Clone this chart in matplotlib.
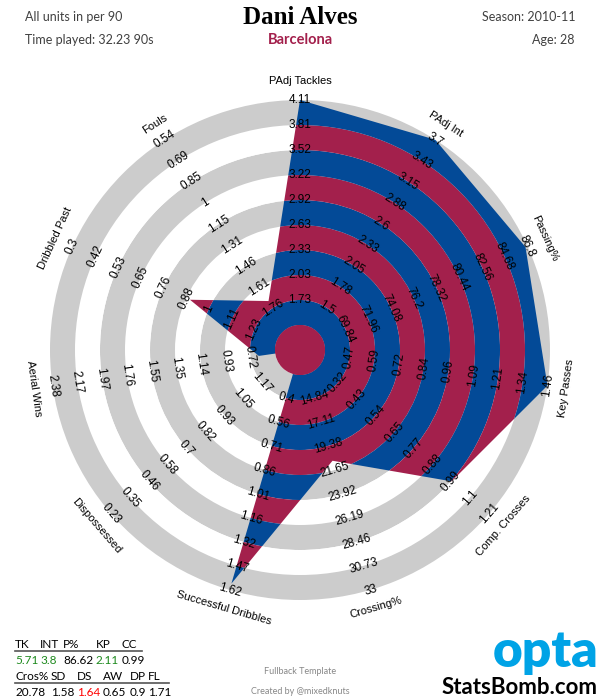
import numpy as np
import matplotlib
matplotlib.use('Agg')
import matplotlib.pyplot as plt
from matplotlib.patches import Wedge, Circle, Polygon

# axes of the radar, clockwise from the top
categories = ['PAdj Tackles', 'PAdj Int', 'Passing%', 'Key Passes', 'Comp. Crosses',
              'Crossing%', 'Successful Dribbles', 'Dispossessed', 'Aerial Wins',
              'Dribbled Past', 'Fouls']

# player values, same order as categories
player_values = [5.71, 3.8, 86.62, 2.11, 0.99, 20.78, 1.58, 1.64, 0.65, 0.9, 1.71]

# ring labels per axis, inner ring -> outer ring
tick_labels = [
    ['1.73', '2.03', '2.33', '2.63', '2.92', '3.22', '3.52', '3.81', '4.11'],
    ['1.5', '1.78', '2.05', '2.33', '2.6', '2.88', '3.15', '3.43', '3.7'],
    ['69.84', '71.96', '74.08', '76.2', '78.32', '80.44', '82.56', '84.68', '86.8'],
    ['0.47', '0.59', '0.72', '0.84', '0.96', '1.09', '1.21', '1.34', '1.46'],
    ['0.32', '0.43', '0.54', '0.65', '0.77', '0.88', '0.99', '1.1', '1.21'],
    ['14.84', '17.11', '19.38', '21.65', '23.92', '26.19', '28.46', '30.73', '33'],
    ['0.4', '0.56', '0.71', '0.86', '1.01', '1.16', '1.32', '1.47', '1.62'],
    ['1.17', '1.05', '0.93', '0.82', '0.7', '0.58', '0.46', '0.35', '0.23'],
    ['0.72', '0.93', '1.14', '1.35', '1.55', '1.76', '1.97', '2.17', '2.38'],
    ['1.23', '1.11', '1', '0.88', '0.76', '0.65', '0.53', '0.42', '0.3'],
    ['1.76', '1.61', '1.46', '1.31', '1.15', '1', '0.85', '0.69', '0.54'],
]

# summary table at the bottom left
table_head_1 = ['TK', 'INT', 'P%', 'KP', 'CC']
table_vals_1 = ['5.71', '3.8', '86.62', '2.11', '0.99']
table_cols_1 = ['#1e8a1e', '#1e8a1e', 'black', '#1e8a1e', 'black']
table_head_2 = ['Cros%', 'SD', 'DS', 'AW', 'DP', 'FL']
table_vals_2 = ['20.78', '1.58', '1.64', '0.65', '0.9', '1.71']
table_cols_2 = ['black', 'black', '#ff0000', 'black', 'black', 'black']

BLUE = '#034a97'
RED = '#a3204c'
GREY = '#cccccc'
N_RINGS = 10

fig = plt.figure(figsize=(6, 7), dpi=100)
ax = fig.add_axes([0, 0, 1, 1])
ax.set_xlim(-12, 12)
ax.set_ylim(-14, 14)
ax.set_aspect('equal')
ax.axis('off')

n = len(categories)
angles = np.deg2rad(90 - np.arange(n) * 360 / n)

# value -> radius: first label on ring 2, last label on ring 10
radii = []
for v, t in zip(player_values, tick_labels):
    lo, hi = float(t[0]), float(t[-1])
    r = 2 + 8 * (v - lo) / (hi - lo)
    radii.append(min(max(r, 0), N_RINGS))
radii = np.array(radii)

verts = np.column_stack([radii * np.cos(angles), radii * np.sin(angles)])
poly = Polygon(verts, closed=True, facecolor='none', edgecolor='none')
ax.add_patch(poly)

# background rings
for i in range(N_RINGS):
    ax.add_patch(Wedge((0, 0), i + 1, 0, 360, width=1,
                       facecolor=GREY if i % 2 else 'white', edgecolor='none', zorder=1))
# player shape, banded
for i in range(N_RINGS):
    w = Wedge((0, 0), i + 1, 0, 360, width=1,
              facecolor=BLUE if i % 2 else RED, edgecolor='none', zorder=2)
    ax.add_patch(w)
    w.set_clip_path(poly)
ax.add_patch(Circle((0, 0), 1, facecolor=RED, edgecolor='none', zorder=3))

# ring labels and axis names
for k in range(n):
    a = angles[k]
    rot = ((np.rad2deg(a) - 90 + 90) % 180) - 90
    for j, lab in enumerate(tick_labels[k]):
        r = 2 + j
        ax.text(r * np.cos(a), r * np.sin(a), lab, rotation=rot, rotation_mode='anchor',
                ha='center', va='center', fontsize=8.5, family='Liberation Sans', zorder=5)
    ax.text(10.75 * np.cos(a), 10.75 * np.sin(a), categories[k], rotation=rot,
            rotation_mode='anchor', ha='center', va='center', fontsize=8,
            family='Liberation Sans', zorder=5)

# header
fig.text(0.5, 1 - 17 / 700, 'Dani Alves', ha='center', va='center', fontsize=18,
         fontweight='bold', family='Liberation Serif')
fig.text(0.5, 1 - 40 / 700, 'Barcelona', ha='center', va='center', fontsize=10.5,
         fontweight='bold', family='Lato', color=RED)
fig.text(25 / 600, 1 - 17 / 700, 'All units in per 90', ha='left', va='center',
         fontsize=9, family='Lato', color='#404040')
fig.text(25 / 600, 1 - 40 / 700, 'Time played: 32.23 90s', ha='left', va='center',
         fontsize=9, family='Lato', color='#404040')
fig.text(575 / 600, 1 - 17 / 700, 'Season: 2010-11', ha='right', va='center',
         fontsize=9, family='Lato', color='#404040')
fig.text(575 / 600, 1 - 40 / 700, 'Age: 28', ha='right', va='center',
         fontsize=9, family='Lato', color='#404040')

# table
x1 = [15, 40, 63, 96, 122]
x2 = [15, 51, 77, 103, 130, 148]
tfs = 8.5
for x, h, v, c in zip(x1, table_head_1, table_vals_1, table_cols_1):
    fig.text(x / 600, 1 - 644 / 700, h, ha='left', va='center', fontsize=tfs, family='Lato')
    fig.text(x / 600, 1 - 660 / 700, v, ha='left', va='center', fontsize=tfs, family='Lato', color=c)
for x, h, v, c in zip(x2, table_head_2, table_vals_2, table_cols_2):
    fig.text(x / 600, 1 - 676 / 700, h, ha='left', va='center', fontsize=tfs, family='Lato')
    fig.text(x / 600, 1 - 692 / 700, v, ha='left', va='center', fontsize=tfs, family='Lato', color=c)
fig.add_artist(plt.Line2D([15 / 600, 142 / 600], [1 - 651 / 700] * 2, color='#555555', lw=1.2))
fig.add_artist(plt.Line2D([15 / 600, 169 / 600], [1 - 683 / 700] * 2, color='#555555', lw=1.2))

# footer
fig.text(0.5, 1 - 672 / 700, 'Fullback Template', ha='center', va='center', fontsize=6.5,
         family='Lato', color='#888888')
fig.text(0.5, 1 - 691 / 700, 'Created by @mixedknuts', ha='center', va='center', fontsize=6.5,
         family='Lato', color='#888888')
fig.text(598 / 600, 1 - 652 / 700, 'opta', ha='right', va='center', fontsize=37,
         fontweight='heavy', family='Lato', color='#00a3e6')
fig.text(598 / 600, 1 - 688 / 700, 'StatsBomb.com', ha='right', va='center', fontsize=16,
         fontweight='bold', family='Lato', color='black')

fig.savefig('out.png', dpi=100)
